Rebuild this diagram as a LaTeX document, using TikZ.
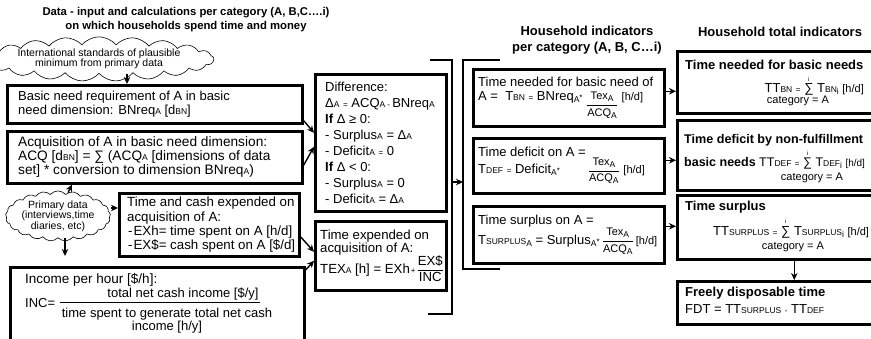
\documentclass[tikz,border=0pt]{standalone}
\usepackage{fontspec}
\setmainfont{Liberation Sans}
\usepackage{amsmath}
\usetikzlibrary{shapes.symbols,arrows.meta}

\newcommand\fb{\fontsize{13}{14}\selectfont}
\newcommand\fsm{\fontsize{11}{11}\selectfont}
\newcommand\lo[1]{{\fontsize{8.5}{8.5}\selectfont #1}}
\newcommand\dn[1]{\raisebox{-2pt}{\fontsize{8.5}{8.5}\selectfont #1}}
\newcommand\sm[1]{{\fontsize{8}{8}\selectfont #1}}
\newcommand\frc[2]{\ensuremath{\dfrac{\mbox{#1}}{\mbox{#2}}}}
\newcommand\sumi{\ensuremath{\mathop{\mbox{∑}}\limits^{\mbox{\fontsize{6}{6}\selectfont i}}}}

\begin{document}
\begin{tikzpicture}[x=1pt,y=-1pt,
  box/.style={draw, line width=2.6pt, rectangle, anchor=north west, inner sep=0pt},
  txt/.style={anchor=west, align=left, inner sep=0pt, font=\fb},
  ttl/.style={align=center, inner sep=0pt, font=\bfseries\fontsize{13}{16}\selectfont},
  arr/.style={line width=1.4pt, -{Stealth[length=7pt,width=6.5pt]}},
  brk/.style={line width=2pt},
  cld/.style={cloud, draw, line width=0.6pt, cloud puffs=21, cloud puff arc=100, cloud ignores aspect, inner sep=0pt, align=center, font=\fontsize{10.5}{10.5}\selectfont}
]
\useasboundingbox (0,0) rectangle (871,339);
\clip (0,0) rectangle (871,339);

% titles
\node[ttl, font=\bfseries\fontsize{11.3}{14}\selectfont] (t1) at (186,19.5) {Data - input and calculations per category (A, B,C….i)\\on which households spend time and money};
\node[ttl] (t2) at (587,40) {Household indicators\\per category (A, B, C…i)};
\node[ttl] (t3) at (780,32) {Household total indicators};

% clouds
\node[cld, minimum width=188pt, minimum height=24pt] (c1) at (99,59) {International standards of plausible\\minimum from primary data};
\node[cld, minimum width=105pt, minimum height=48pt] (c2) at (58,216) {Primary data\\(interviews,time\\diaries, etc)};

% left column boxes
\node[box, minimum width=295pt, minimum height=38pt] (b1) at (6,84) {};
\node[txt] (b1t) at ([xshift=12pt]b1.west) {Basic need requirement of A in basic\\need dimension: BNreq\lo{A} [d\lo{BN}]};

\node[box, minimum width=295pt, minimum height=52pt] (b2) at (6,130) {};
\node[txt, font=\fontsize{13.7}{14}\selectfont] (b2t) at ([xshift=12pt]b2.west) {Acquisition of A in basic need dimension:\\ACQ [d\lo{BN}] = ∑ (ACQ\lo{A} [dimensions of data\\set] * conversion to dimension BNreq\lo{A})};

\node[box, minimum width=180pt, minimum height=63pt] (b3) at (118,192) {};
\node[txt, font=\fontsize{13.3}{14.3}\selectfont] (b3t) at ([xshift=9pt]b3.west) {Time and cash expended on\\acquisition of A:\\\hspace*{1pt}-\hspace{1pt}EXh= time spent on A [h/d]\\\hspace*{1pt}-\hspace{1pt}EX\$= cash spent on A [\$/d]};

\node[box, minimum width=294pt, minimum height=100pt] (b5) at (9,266) {};
\node[txt, font=\fontsize{13.5}{14}\selectfont] (b5a) at (25,280) {Income per hour [\$/h]:};
\node[txt] (b5b) at (25,303) {INC=};
\coordinate (b5l) at (60,302);
\coordinate (b5r) at (260,302);
\draw[line width=0.8pt] (b5l) -- (b5r);
\node[txt, anchor=center] (b5n) at (183,294.5) {total net cash income [\$/y]};
\node[txt, anchor=center, align=center, font=\fontsize{13}{12}\selectfont] (b5d) at (167,321) {time spent to generate total net cash\\income [h/y]};

% middle column
\node[box, minimum width=131pt, minimum height=137pt] (bd) at (314,73) {};
\node[txt, font=\fontsize{13}{16}\selectfont] (bdt) at ([xshift=11pt]bd.west) {Difference:\\Δ\lo{A} \sm{=} ACQ\lo{A}\,\sm{-}\,BNreq\lo{A}\\\textbf{If} Δ ≥ 0:\\- Surplus\lo{A} = Δ\lo{A}\\- Deficit\lo{A} \sm{=} 0\\\textbf{If} Δ < 0:\\- Surplus\lo{A} = 0\\- Deficit\lo{A} = Δ\lo{A}};

\node[box, minimum width=131pt, minimum height=69pt] (bt) at (314,220) {};
\node[txt, font=\fontsize{13.2}{13}\selectfont] (btt) at ([xshift=6pt]bt.west) {Time expended on\\acquisition of A:\\TEX\lo{A} [h] = EXh\kern1pt\sm{+}\kern1pt\frc{EX\$}{INC}};

% brackets
\coordinate (k1a) at (430,60);
\coordinate (k1b) at (452,60);
\coordinate (k1c) at (452,314);
\coordinate (k1d) at (428,314);
\draw[brk] (k1a) -- (k1b) -- (k1c) -- (k1d);
\coordinate (k2a) at (500,60);
\coordinate (k2b) at (463,60);
\coordinate (k2c) at (463,269);
\coordinate (k2d) at (500,269);
\draw[brk] (k2a) -- (k2b) -- (k2c) -- (k2d);
\coordinate (k1m) at (452,182);
\coordinate (k2m) at (463,182);
\draw[arr] (k1m) -- (k2m);

% household indicators
\node[box, minimum width=191pt, minimum height=57pt] (h1) at (472,68) {};
\node[txt] (h1t) at ([xshift=6pt]h1.west) {Time needed for basic need of\\A = \ T\lo{BN} \sm{=} BNreq\dn{A}\sm{*}\ \raisebox{-7pt}{\frc{\fsm Tex\dn{A}}{\fsm ACQ\dn{A}}}\ {\fsm[h/d]}};

\node[box, minimum width=191pt, minimum height=55pt] (h2) at (472,137) {};
\node[txt] (h2t) at ([xshift=6pt]h2.west) {Time deficit on A =\\T\lo{DEF} \sm{=} Deficit\dn{A}\sm{*}\hspace{28pt}\frc{\fsm Tex\dn{A}}{\fsm ACQ\dn{A}}\ {\fsm[h/d]}};

\node[box, minimum width=191pt, minimum height=57pt] (h3) at (472,205) {};
\node[txt] (h3t) at ([xshift=6pt]h3.west) {Time surplus on A =\\T\lo{SURPLUS}\dn{A} = Surplus\dn{A}\sm{*}\,\frc{\fsm Tex\dn{A}}{\fsm ACQ\dn{A}}\,{\fsm[h/d]}};

% household totals
\node[box, minimum width=215pt, minimum height=62pt] (T1) at (676,50) {};
\node[txt, font=\bfseries\fb] (T1a) at (685,65) {Time needed for basic needs};
\node[txt, anchor=base east] (T1b) at (864,93) {TT\lo{BN} \sm{=} \sumi\ T\lo{BN}\dn{i} {\fsm[h/d]}};
\node[txt, anchor=center, font=\fsm] (T1c) at (798,101) {category = A};

\node[box, minimum width=215pt, minimum height=70pt] (T2) at (676,119) {};
\node[txt, font=\bfseries\fontsize{12.6}{14}\selectfont] (T2a) at (684,140) {Time deficit by non-fulfillment};
\node[txt, font=\fontsize{12.5}{14}\selectfont] (T2b) at (684,160) {\textbf{basic needs} TT\lo{DEF} \sm{=} \sumi\ T\lo{DEF}\dn{i} {\fontsize{10}{10}\selectfont[h/d]}};
\node[txt, anchor=center, font=\fsm] (T2c) at (812,178) {category = A};

\node[box, minimum width=215pt, minimum height=64pt] (T3) at (676,194) {};
\node[txt, font=\bfseries\fb] (T3a) at (685,207) {Time surplus};
\node[txt] (T3b) at (713,228) {TT\lo{SURPLUS} \sm{=} \sumi\ T\lo{SURPLUS}\dn{i} {\fsm[h/d]}};
\node[txt, anchor=center, font=\fsm] (T3c) at (793,247) {category = A};

\node[box, minimum width=215pt, minimum height=43pt] (T4) at (676,280) {};
\node[txt, font=\bfseries\fb] (T4a) at (685,293) {Freely disposable time};
\node[txt] (T4b) at (685,309) {FDT = TT\lo{SURPLUS} \sm{-} TT\lo{DEF}};

% connectors
\coordinate (p0) at ([xshift=28pt]c1.south);
\draw[arr] (p0) -- (p0 |- b1.north);
\coordinate (p1) at ([xshift=14pt]c2.north);
\draw[arr] ([xshift=10pt,yshift=-2pt]c2.north) -- (p1 |- b2.south);
\coordinate (p2) at ([yshift=8pt]c2.east);
\draw[arr] (p2) -- (p2 -| b3.west);
\coordinate (p3) at ([xshift=7pt]c2.south);
\coordinate (p3b) at ([yshift=10pt]b5.north);
\draw[arr] (p3) -- (p3 |- p3b);

\draw[arr] ([yshift=4pt]b1.south east) -- ([yshift=10pt]bd.west);
\draw[arr] ([yshift=-8pt]b2.east) -- ([yshift=-4pt]bd.west);
\draw[arr] ([yshift=-12pt]b3.east) -- ([yshift=4pt]bt.west);
\draw[arr] ([yshift=-4pt]b5.north east) -- ([yshift=-5pt]bt.west);

\coordinate (q1) at ([yshift=6.5pt]h1.east);
\draw[arr] (q1) -- (q1 -| T1.west);
\coordinate (q2) at ([yshift=5.5pt]h2.east);
\draw[arr] (q2) -- (q2 -| T2.west);
\coordinate (q3) at ([yshift=8.5pt]h3.east);
\draw[arr] (q3) -- (q3 -| T3.west);

\draw[arr] ([xshift=9.5pt]T3.south) -- ([xshift=9.5pt]T4.north);
\end{tikzpicture}
\end{document}
